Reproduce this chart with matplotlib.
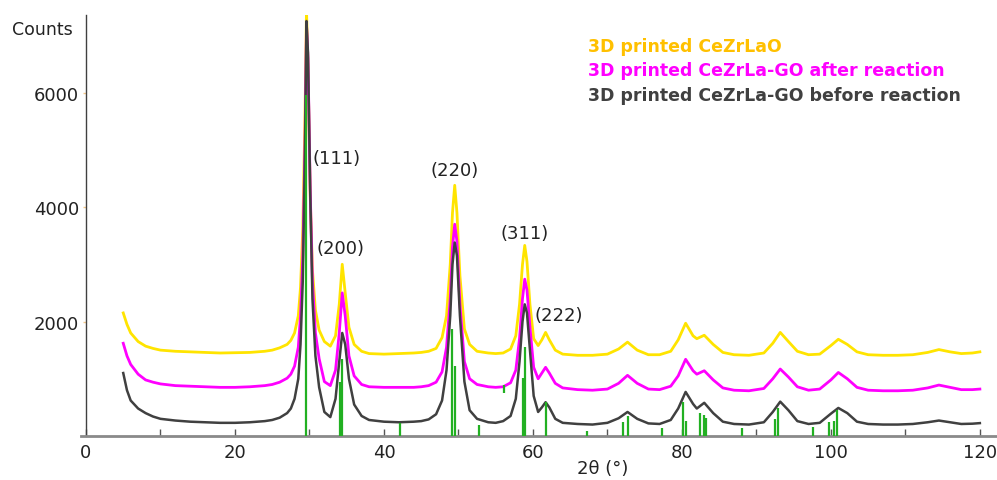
import matplotlib
matplotlib.use("Agg")
import matplotlib.pyplot as plt

# ---- data ----
two_theta = [5, 5.5, 6, 7, 8, 9, 10, 12, 14, 16, 18, 20, 22, 24, 25, 26, 27, 27.5, 28, 28.5,
             28.8, 29.1, 29.4, 29.6, 29.8, 30.1, 30.4, 30.8, 31.3, 32, 32.8, 33.5, 34.0, 34.4, 34.8, 35.3,
             36, 37, 38, 40, 42, 44, 45, 46, 47, 47.8, 48.4, 48.9, 49.2, 49.5, 49.8, 50.2,
             50.8, 51.5, 52.5, 54, 55, 56, 57, 57.7, 58.2, 58.6, 58.9, 59.2, 59.6, 60.1, 60.7,
             61.2, 61.7, 62.2, 63, 64, 66, 68, 70, 71.5, 72.7, 74, 75.5, 77, 78.5, 79.5, 80.5,
             81.5, 82.0, 83.0, 84.2, 85.5, 87, 89, 91, 92.2, 93.2, 94.3, 95.5, 97, 98.5, 100,
             101, 102.2, 103.5, 105, 107, 109, 111, 113, 114.5, 116, 117.5, 119, 120]

counts_cezrlao = [2150, 1950, 1800, 1650, 1570, 1530, 1500, 1480, 1470, 1460, 1450, 1455, 1460, 1480, 1500, 1540, 1600, 1670, 1800, 2100,
                  2600, 3600, 5600, 7450, 6500, 4200, 2900, 2200, 1850, 1650, 1570, 1750, 2300, 3000, 2500, 1900,
                  1600, 1480, 1440, 1430, 1440, 1450, 1460, 1480, 1530, 1720, 2100, 3000, 3900, 4380, 3900, 2800,
                  1870, 1600, 1480, 1450, 1440, 1450, 1520, 1750, 2300, 3000, 3330, 3050, 2300, 1700, 1580,
                  1680, 1810, 1680, 1500, 1430, 1410, 1410, 1430, 1520, 1640, 1500, 1420, 1420, 1480, 1680, 1970,
                  1750, 1700, 1760, 1600, 1460, 1420, 1410, 1450, 1620, 1810, 1650, 1480, 1420, 1430, 1580,
                  1690, 1600, 1470, 1420, 1410, 1410, 1420, 1460, 1510, 1470, 1440, 1450, 1470]

counts_after = [1620, 1400, 1250, 1080, 980, 940, 910, 880, 870, 860, 850, 850, 860, 880, 900, 940, 1010, 1080, 1220, 1550,
                2100, 3100, 5100, 7200, 6600, 4300, 2700, 1800, 1350, 950, 880, 1150, 1800, 2500, 2100, 1400,
                1050, 900, 860, 850, 850, 850, 860, 880, 940, 1120, 1550, 2400, 3300, 3700, 3400, 2300,
                1300, 1000, 900, 860, 850, 860, 930, 1150, 1700, 2400, 2740, 2550, 1900, 1200, 1000,
                1100, 1200, 1100, 920, 840, 810, 800, 820, 920, 1060, 920, 820, 810, 870, 1050, 1340,
                1140, 1080, 1140, 980, 840, 800, 790, 830, 1000, 1170, 1030, 860, 800, 820, 980,
                1110, 1000, 850, 800, 790, 790, 800, 840, 890, 850, 810, 810, 820]

counts_before = [1100, 800, 620, 480, 400, 340, 300, 270, 250, 240, 230, 230, 240, 260, 280, 320, 400, 480, 650, 1000,
                 1600, 2700, 5000, 7250, 6700, 4300, 2400, 1400, 850, 420, 330, 650, 1300, 1800, 1600, 1000,
                 550, 350, 280, 250, 240, 250, 260, 290, 380, 620, 1150, 2100, 3000, 3380, 3150, 2100,
                 950, 450, 300, 240, 230, 260, 350, 650, 1300, 2000, 2300, 2150, 1500, 700, 420,
                 500, 590, 500, 300, 230, 210, 200, 230, 310, 420, 300, 220, 210, 280, 480, 770,
                 560, 480, 580, 400, 250, 210, 200, 240, 420, 600, 450, 260, 210, 230, 390,
                 490, 400, 250, 210, 200, 200, 210, 240, 270, 240, 210, 215, 225]

ref_pos = [29.5, 34.1, 34.4, 42.2, 49.2, 49.5, 52.7, 58.6, 59.0, 61.7, 67.3, 72.1, 72.8, 77.3,
           80.1, 80.6, 82.45, 83.0, 83.3, 88.05, 92.5, 92.95, 97.6, 99.7, 100.4, 100.85]
ref_height = [5950, 950, 1350, 230, 1870, 1230, 190, 1010, 1560, 590, 93, 240, 355, 134,
              590, 270, 410, 370, 310, 134, 300, 485, 150, 240, 260, 455]
extra_ref_pos = [56.1]
extra_ref_low = [750]
extra_ref_high = [890]

series_labels = ["3D printed CeZrLaO", "3D printed CeZrLa-GO after reaction",
                 "3D printed CeZrLa-GO before reaction"]
hkl_labels = ["(111)", "(200)", "(220)", "(311)", "(222)"]
hkl_x = [30.4, 31.0, 46.3, 55.7, 60.2]
hkl_y = [4850, 3280, 4650, 3540, 2120]
x_ticks = [0, 20, 40, 60, 80, 100, 120]
y_ticks = [2000, 4000, 6000]

for arr in (counts_cezrlao, counts_after, counts_before):
    assert len(arr) == len(two_theta), len(arr)

# ---- figure ----
W, H = 997, 481
fig = plt.figure(figsize=(W / 100, H / 100), dpi=100)
ax_l, ax_r, ax_b, ax_t = 81, 997, 437, 16
ax = fig.add_axes([ax_l / W, (H - ax_b) / H, (ax_r - ax_l) / W, (ax_b - ax_t) / H])

c_yel, c_mag, c_blk, c_grn = "#FFE400", "#FF00FF", "#404040", "#22B022"

ax.plot(two_theta, counts_cezrlao, color=c_yel, lw=2.0, zorder=2)
ax.plot(two_theta, counts_after, color=c_mag, lw=2.0, zorder=3)
ax.plot(two_theta, counts_before, color=c_blk, lw=1.8, zorder=4)
ax.vlines(ref_pos, 0, ref_height, color=c_grn, lw=1.6, zorder=5)
ax.vlines(extra_ref_pos, extra_ref_low, extra_ref_high, color=c_grn, lw=1.6, zorder=5)

ax.set_xlim(-0.67, 122.3)
ax.set_ylim(0, 7355)

for s in ("top", "right"):
    ax.spines[s].set_visible(False)
ax.spines["left"].set_position(("data", 0))
ax.spines["left"].set_color("#404040")
ax.spines["left"].set_linewidth(1.0)
ax.spines["bottom"].set_color("#8a8a8a")
ax.spines["bottom"].set_linewidth(2.0)

ax.set_xticks(x_ticks)
ax.set_xticks([10, 30, 50, 70, 90, 110], minor=True)
ax.tick_params(axis="x", which="both", direction="in", length=5, width=1, color="#555555",
               labelsize=13, labelcolor="#222222", pad=5)
ax.set_yticks(y_ticks)
ax.set_yticklabels([str(v) for v in y_ticks])
ax.tick_params(axis="y", direction="out", length=2, width=1, color="#F5C98A",
               labelsize=13, labelcolor="#222222", pad=3)

fig.text(603 / W, 1 - 469 / H, "2θ (°)", fontsize=13, color="#222222", ha="center", va="center")
fig.text(12 / W, 1 - 30 / H, "Counts", fontsize=12.5, color="#222222", va="center", ha="left")

for lab, xx, yy in zip(hkl_labels, hkl_x, hkl_y):
    ax.text(xx, yy, lab, fontsize=13, color="#222222", ha="left", va="center")

leg_cols = ["#FFC000", c_mag, "#404040"]
for i, (lab, col) in enumerate(zip(series_labels, leg_cols)):
    fig.text(588 / W, 1 - (47 + 24.5 * i) / H, lab, fontsize=12.5, fontweight="bold",
             color=col, va="center", ha="left")

fig.savefig("out.png", dpi=100)
